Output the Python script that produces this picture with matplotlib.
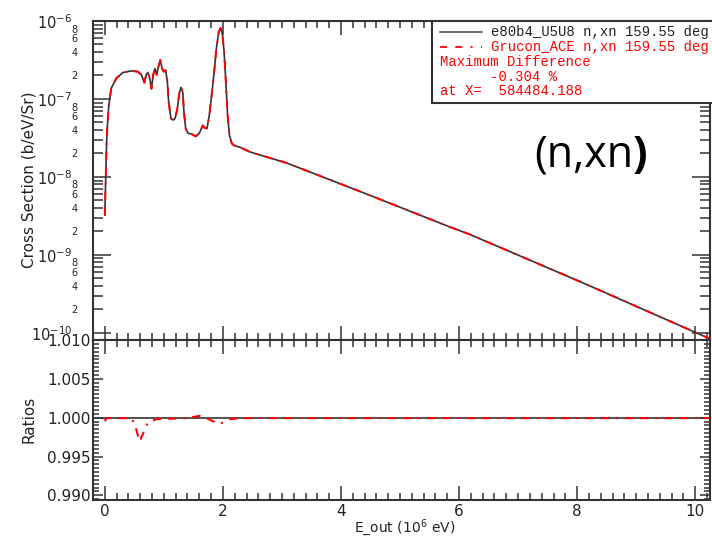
import numpy as np
import matplotlib
matplotlib.use("Agg")
import matplotlib.pyplot as plt
from matplotlib.ticker import MultipleLocator, FuncFormatter, NullFormatter, FixedLocator
from matplotlib.patches import Rectangle

plt.rcParams["lines.scale_dashes"] = False
plt.rcParams["font.family"] = "DejaVu Sans"

# outgoing energy (MeV) and double-differential cross section (b/eV/Sr)
e_out = [0.0, 0.03, 0.045, 0.068, 0.11, 0.2, 0.31, 0.45, 0.56, 0.62, 0.67,
         0.70, 0.73, 0.76, 0.79, 0.82, 0.85, 0.88, 0.90, 0.94, 0.97, 1.00,
         1.03, 1.06, 1.08, 1.12, 1.16, 1.19, 1.23, 1.26, 1.29, 1.32, 1.34,
         1.37, 1.41, 1.47, 1.54, 1.60, 1.66, 1.69, 1.73, 1.77, 1.81, 1.85,
         1.89, 1.93, 1.96, 1.99, 2.02, 2.05, 2.08, 2.11, 2.15, 2.20, 2.29,
         2.46, 3.08, 4.37, 5.84, 6.19, 8.1, 10.2, 10.25]
xs_e80b4 = [3.24e-9, 2.69e-8, 4.68e-8, 8.32e-8, 1.38e-7, 1.86e-7, 2.19e-7,
            2.29e-7, 2.24e-7, 2.04e-7, 1.62e-7, 2.04e-7, 2.19e-7, 1.86e-7,
            1.35e-7, 2.04e-7, 2.45e-7, 2.04e-7, 2.45e-7, 3.16e-7, 2.45e-7,
            2.24e-7, 2.34e-7, 1.66e-7, 9.33e-8, 5.62e-8, 5.37e-8, 5.62e-8,
            7.59e-8, 1.17e-7, 1.41e-7, 1.23e-7, 6.92e-8, 4.17e-8, 3.63e-8,
            3.55e-8, 3.31e-8, 3.63e-8, 4.57e-8, 4.27e-8, 4.17e-8, 6.17e-8,
            1.12e-7, 2.14e-7, 4.47e-7, 7.24e-7, 8.13e-7, 6.92e-7, 4.07e-7,
            1.66e-7, 6.17e-8, 3.47e-8, 2.69e-8, 2.51e-8, 2.40e-8, 2.09e-8,
            1.51e-8, 6.31e-9, 2.29e-9, 1.82e-9, 4.37e-10, 8.71e-11, 8.32e-11]
xs_grucon = xs_e80b4

# Grucon_ACE / e80b4 ratio
ratio_x = [0.0, 0.03, 0.45, 0.51, 0.59, 0.65, 0.73, 0.88, 1.4, 1.6, 1.72, 1.83,
           1.95, 2.12, 2.3, 10.25]
ratio_y = [0.99955, 0.99994, 0.99994, 0.99904, 0.99696, 0.99801, 0.99942,
           0.99981, 0.99994, 1.00023, 0.99994, 0.99955, 0.9992, 0.99981,
           0.99994, 0.99994]

# log axis ticks: decades and 2..9 inside each decade
decades = [-10, -9, -8, -7, -6]
mantissas = [2, 3, 4, 5, 6, 7, 8, 9]

W, H = 712, 539


def fx(x):
    return x / W


def fy(y):
    return 1 - y / H


red_dash = (0, (6, 5, 6, 5, 1.5, 5))
spine_c = "#333333"
text_c = "#222222"

fig = plt.figure(figsize=(W / 100, H / 100), dpi=100)
ax1 = fig.add_axes([fx(93), fy(340), fx(710) - fx(93), fy(21) - fy(340)])
ax2 = fig.add_axes([fx(93), fy(500), fx(710) - fx(93), fy(340) - fy(500)], sharex=ax1)

ax1.plot(e_out, xs_e80b4, color="#333333", lw=1.2)
ax1.plot(e_out, xs_grucon, color="red", lw=1.4, linestyle=red_dash)
ax1.set_yscale("log")
ax1.set_ylim(8.1e-11, 1e-6)
ax1.set_xlim(-0.2, 10.25)

ax2.axhline(1.0, color="#333333", lw=1.2)
ax2.plot(ratio_x, ratio_y, color="red", lw=1.5, linestyle=red_dash, zorder=3)
ax2.set_ylim(0.9894, 1.010)

for ax in (ax1, ax2):
    for s in ax.spines.values():
        s.set_color(spine_c)
        s.set_linewidth(1.5)
    ax.xaxis.set_major_locator(MultipleLocator(2))
    ax.xaxis.set_minor_locator(MultipleLocator(0.2))
    ax.xaxis.set_minor_formatter(NullFormatter())
    ax.tick_params(which="both", direction="in", top=True, right=True,
                   color=spine_c, width=1.1, labelcolor=text_c)
    ax.tick_params(axis="x", which="major", length=10)
    ax.tick_params(axis="x", which="minor", length=5, labelbottom=False)

ax1.tick_params(axis="x", labelbottom=False)
major_vals = [10.0 ** d for d in decades]
minor_vals = [m * 10.0 ** d for d in decades[:-1] for m in mantissas]
ax1.yaxis.set_major_locator(FixedLocator(major_vals))
ax1.yaxis.set_minor_locator(FixedLocator(minor_vals))


def minor_label(v, pos):
    m = int(round(v / 10 ** np.floor(np.log10(v) + 1e-9)))
    return str(m) if m in (2, 4, 6, 8) else ""


ax1.yaxis.set_minor_formatter(FuncFormatter(minor_label))
ax1.tick_params(axis="y", which="major", length=13, pad=15, labelsize=10.5)
ax1.tick_params(axis="y", which="minor", length=7, pad=11, labelsize=7)

ax2.yaxis.set_major_locator(MultipleLocator(0.005))
ax2.yaxis.set_minor_locator(MultipleLocator(0.0005))
ax2.yaxis.set_major_formatter(FuncFormatter(lambda v, p: "%.3f" % v))
ax2.tick_params(axis="y", which="major", length=7, pad=2, labelsize=11)
ax2.tick_params(axis="y", which="minor", length=4, labelleft=False)
ax2.tick_params(axis="x", which="major", pad=3, labelsize=11)

fig.text(fx(29), fy(180), "Cross Section (b/eV/Sr)", rotation=90,
         ha="center", va="center", fontsize=11, color=text_c)
fig.text(fx(29), fy(419), "Ratios", rotation=90,
         ha="center", va="center", fontsize=11, color=text_c)
fig.text(fx(405), fy(527.5), "E_out (10$^{6}$ eV)", ha="center", va="center",
         fontsize=10, color=text_c)

# legend / info box
fig.patches.append(Rectangle((fx(432), fy(103)), fx(300), fy(21) - fy(103),
                             transform=fig.transFigure, fill=True, facecolor="white",
                             edgecolor=spine_c, lw=1.5, zorder=5))
fig.add_artist(plt.Line2D([fx(440), fx(482)], [fy(32), fy(32)], color="#666666",
                          lw=1.3, transform=fig.transFigure, zorder=6))
fig.add_artist(plt.Line2D([fx(440), fx(482)], [fy(47), fy(47)], color="red",
                          lw=1.3, linestyle=(0, (5, 6, 5, 6, 1.5, 6)),
                          transform=fig.transFigure, zorder=6))
mono = dict(family="Liberation Mono", fontsize=10, va="center", zorder=7)
fig.text(fx(491), fy(32), "e80b4_U5U8 n,xn 159.55 deg", color=text_c, **mono)
fig.text(fx(491), fy(47), "Grucon_ACE n,xn 159.55 deg", color="red", **mono)
fig.text(fx(440), fy(62), "Maximum Difference", color="red", **mono)
fig.text(fx(490), fy(77), "-0.304 %", color="red", **mono)
fig.text(fx(440), fy(91), "at X=  584484.188", color="red", **mono)

# reaction tag
fig.text(fx(633), fy(167), "(n,xn", family="Open Sans", fontsize=31,
         ha="right", va="baseline", color="black")
fig.text(fx(633), fy(167), ")", family="Open Sans", fontsize=31,
         fontweight="bold", ha="left", va="baseline", color="black")

fig.savefig("out.png", dpi=100)
